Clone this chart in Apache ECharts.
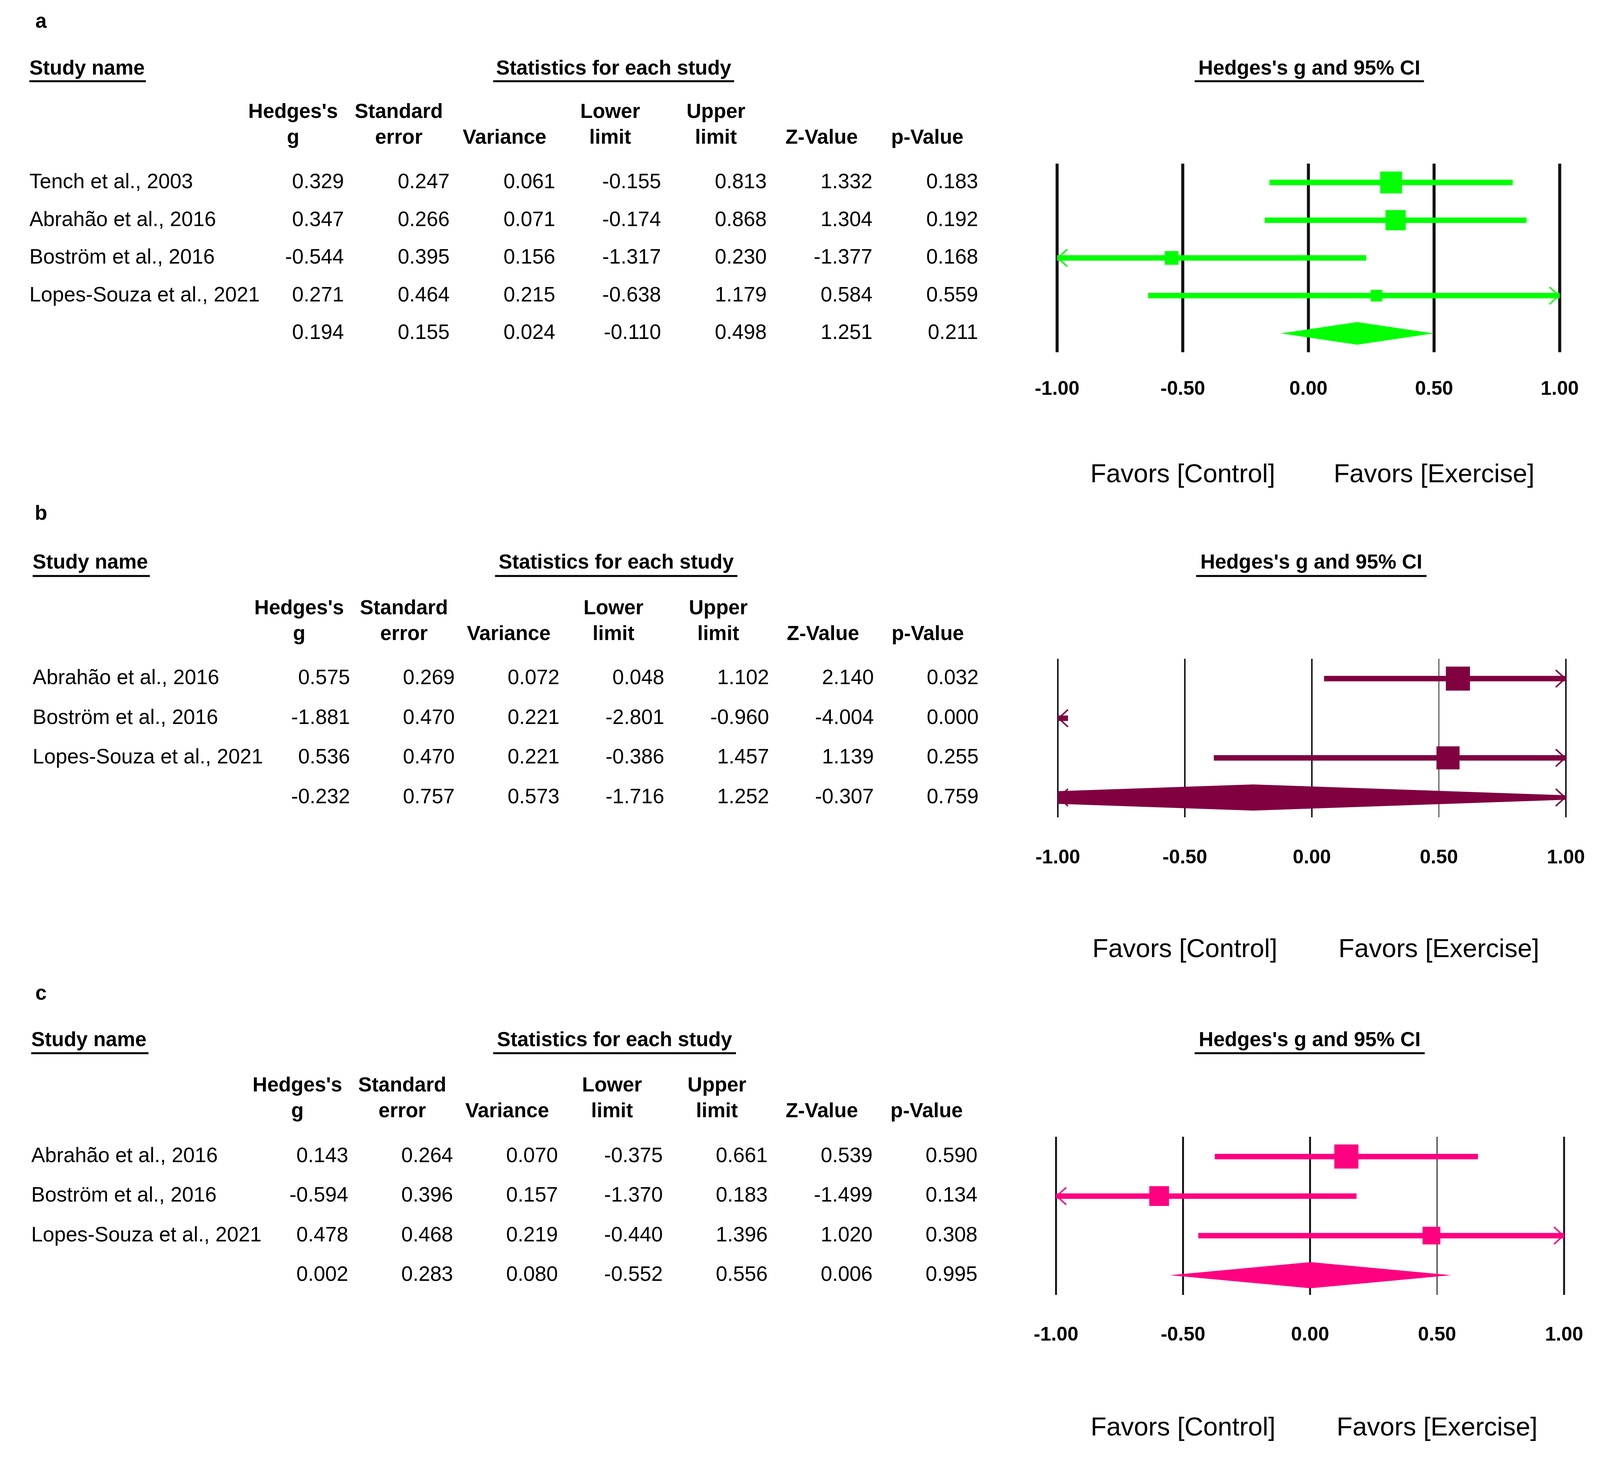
<!DOCTYPE html>
<html>
<head>
<meta charset="utf-8">
<script src="https://cdn.jsdelivr.net/npm/echarts@6/dist/echarts.min.js"></script>
<style>
  html, body { margin: 0; background: #fff; overflow: hidden; }
  #chart { width: 100vw; height: 100vh; }
</style>
</head>
<body>
<div id="chart"></div>
<script>
// column headers of the statistics table
const colTitles = ["Hedges's\ng", 'Standard\nerror', 'Variance', 'Lower\nlimit', 'Upper\nlimit', 'Z-Value', 'p-Value'];
const tickValues = [-1, -0.5, 0, 0.5, 1];
const tickLabels = ['-1.00', '-0.50', '0.00', '0.50', '1.00'];
const favorsLabels = ['Favors [Control]', 'Favors [Exercise]'];

// panel a (last row = pooled estimate)
const studiesA = ['Tench et al., 2003', 'Abrahão et al., 2016', 'Boström et al., 2016', 'Lopes-Souza et al., 2021', ''];
const hedgesA = [0.329, 0.347, -0.544, 0.271, 0.194];
const seA = [0.247, 0.266, 0.395, 0.464, 0.155];
const varA = [0.061, 0.071, 0.156, 0.215, 0.024];
const lowerA = [-0.155, -0.174, -1.317, -0.638, -0.110];
const upperA = [0.813, 0.868, 0.230, 1.179, 0.498];
const zA = [1.332, 1.304, -1.377, 0.584, 1.251];
const pA = [0.183, 0.192, 0.168, 0.559, 0.211];

// panel b
const studiesB = ['Abrahão et al., 2016', 'Boström et al., 2016', 'Lopes-Souza et al., 2021', ''];
const hedgesB = [0.575, -1.881, 0.536, -0.232];
const seB = [0.269, 0.470, 0.470, 0.757];
const varB = [0.072, 0.221, 0.221, 0.573];
const lowerB = [0.048, -2.801, -0.386, -1.716];
const upperB = [1.102, -0.960, 1.457, 1.252];
const zB = [2.140, -4.004, 1.139, -0.307];
const pB = [0.032, 0.000, 0.255, 0.759];

// panel c
const studiesC = ['Abrahão et al., 2016', 'Boström et al., 2016', 'Lopes-Souza et al., 2021', ''];
const hedgesC = [0.143, -0.594, 0.478, 0.002];
const seC = [0.264, 0.396, 0.468, 0.283];
const varC = [0.070, 0.157, 0.219, 0.080];
const lowerC = [-0.375, -1.370, -0.440, -0.552];
const upperC = [0.661, 0.183, 1.396, 0.556];
const zC = [0.539, -1.499, 1.020, 0.006];
const pC = [0.590, 0.134, 0.308, 0.995];

const FONT = '"Liberation Sans", Arial, sans-serif';

// layout is written for a 4409 x 3749 page and scaled to the real viewport
const sx = window.innerWidth / 4409;
const sy = window.innerHeight / 3749;
const X = v => v * sx, Y = v => v * sy, F = v => v * (sx + sy) / 2;

const panels = [
  { letter: 'a', color: '#00ff00', studies: studiesA,
    cols: [hedgesA, seA, varA, lowerA, upperA, zA, pA],
    lay: { letterY: 57, headY: 177, ulY: 208, studyUL: [81, 402], statUL: [1359, 2023], ciUL: [3292, 3924],
      top: 419, h: 483, tabL: 662, tabW: 2039, nameX: 81, headM: 32, fL: 2913, fR: 4298,
      tickM: 69, favM: 280, vw: [8, 8, 8, 8, 8], box: 58, dia: 58 } },
  { letter: 'b', color: '#800040', studies: studiesB,
    cols: [hedgesB, seB, varB, lowerB, upperB, zB, pB],
    lay: { letterY: 1317, headY: 1442, ulY: 1475, studyUL: [90, 413], statUL: [1364, 2032], ciUL: [3296, 3931],
      top: 1687, h: 406, tabL: 680, tabW: 2021, nameX: 90, headM: 29, fL: 2915, fR: 4315,
      tickM: 78, favM: 305, vw: [4, 4, 4, 2, 4], box: 64, dia: 67 } },
  { letter: 'c', color: '#ff0080', studies: studiesC,
    cols: [hedgesC, seC, varC, lowerC, upperC, zC, pC],
    lay: { letterY: 2546, headY: 2665, ulY: 2697, studyUL: [86, 409], statUL: [1359, 2028], ciUL: [3292, 3926],
      top: 2911, h: 405, tabL: 675, tabW: 2023, nameX: 86, headM: 31, fL: 2910, fR: 4310,
      tickM: 77, favM: 307, vw: [5, 5, 5, 2.5, 5], box: 64, dia: 67 } }
];

// between-study variance that reproduces the pooled variance (0 = fixed effect)
function tau2For(vars, pooled) {
  const fe = 1 / vars.reduce((s, v) => s + 1 / v, 0);
  if (fe >= pooled) return 0;
  let lo = 0, hi = 50;
  for (let it = 0; it < 80; it++) {
    const t = (lo + hi) / 2;
    const pv = 1 / vars.reduce((s, v) => s + 1 / (v + t), 0);
    if (pv < pooled) lo = t; else hi = t;
  }
  return (lo + hi) / 2;
}

// clip a polygon to xMin <= x <= xMax
function clipX(pts, xMin, xMax) {
  function cut(poly, inside, xb) {
    const out = [];
    for (let i = 0; i < poly.length; i++) {
      const a = poly[i], b = poly[(i + 1) % poly.length];
      const ia = inside(a[0]), ib = inside(b[0]);
      if (ia) out.push(a);
      if (ia !== ib) {
        const t = (xb - a[0]) / (b[0] - a[0]);
        out.push([xb, a[1] + t * (b[1] - a[1])]);
      }
    }
    return out;
  }
  let p = cut(pts, x => x >= xMin, xMin);
  p = cut(p, x => x <= xMax, xMax);
  return p;
}

function chevron(x, y, dir, color) {
  return {
    type: 'polyline',
    shape: { points: [[x + dir * X(28), y - Y(22)], [x + dir * X(2), y], [x + dir * X(28), y + Y(22)]] },
    style: { stroke: color, lineWidth: F(4), fill: null }
  };
}

const grid = [], xAxis = [], yAxis = [], series = [], graphic = [];

panels.forEach((p, k) => {
  const L = p.lay;
  const n = p.studies.length;
  const rows = p.studies.map((s, i) => String(i));
  const gT = 2 * k, gF = 2 * k + 1;
  const xT = 3 * k, xF = 3 * k + 1;
  const yT = 2 * k, yF = 2 * k + 1;

  grid.push({ left: X(L.tabL), top: Y(L.top), width: X(L.tabW), height: Y(L.h) });
  grid.push({ left: X(L.fL), top: Y(L.top), width: X(L.fR - L.fL), height: Y(L.h) });

  xAxis.push({
    gridIndex: gT, type: 'category', position: 'top', data: colTitles,
    axisLine: { show: false }, axisTick: { show: false }, splitLine: { show: false },
    axisLabel: { interval: 0, margin: Y(L.headM), fontFamily: FONT, fontWeight: 'bold', fontSize: F(54),
      lineHeight: Y(66), color: '#000' }
  });
  xAxis.push({
    gridIndex: gF, type: 'value', position: 'bottom', min: -1, max: 1, interval: 0.5,
    axisLine: { show: false }, axisTick: { show: false }, splitLine: { show: false },
    axisLabel: { margin: Y(L.tickM), fontFamily: FONT, fontWeight: 'bold', fontSize: F(52), lineHeight: Y(52),
      color: '#000',
      formatter: v => tickLabels[tickValues.findIndex(t => Math.abs(t - v) < 1e-9)] || '' }
  });
  // favours captions sit under the -0.5 and 0.5 ticks
  xAxis.push({
    gridIndex: gF, type: 'value', position: 'bottom', min: -1, max: 1, interval: 0.5,
    axisLine: { show: false }, axisTick: { show: false }, splitLine: { show: false },
    axisLabel: { margin: Y(L.favM), fontFamily: FONT, fontSize: F(69), lineHeight: Y(69), color: '#000',
      formatter: v => Math.abs(v + 0.5) < 1e-9 ? favorsLabels[0] : (Math.abs(v - 0.5) < 1e-9 ? favorsLabels[1] : '') }
  });

  yAxis.push({
    gridIndex: gT, type: 'category', inverse: true, data: p.studies,
    axisLine: { show: false }, axisTick: { show: false }, splitLine: { show: false },
    axisLabel: { interval: 0, align: 'left', margin: X(L.tabL - L.nameX), fontFamily: FONT, fontSize: F(55), color: '#000' }
  });
  yAxis.push({
    gridIndex: gF, type: 'category', inverse: true, data: rows, show: false
  });

  // table cells
  const cells = [];
  p.cols.forEach((arr, c) => arr.forEach((v, r) => cells.push([c, r, v.toFixed(3)])));
  series.push({
    type: 'custom', xAxisIndex: xT, yAxisIndex: yT, data: cells, silent: true,
    renderItem: (params, api) => {
      const pt = api.coord([api.value(0), api.value(1)]);
      return {
        type: 'text', x: pt[0] + X(140), y: pt[1],
        style: { text: cells[params.dataIndex][2], fill: '#000', fontFamily: FONT, fontSize: F(55),
          align: 'right', verticalAlign: 'middle' }
      };
    }
  });

  // reference lines of the forest plot
  series.push({
    type: 'custom', xAxisIndex: xF, yAxisIndex: yF, z: 1, silent: true,
    data: tickValues.map((v, j) => [v, j]),
    renderItem: (params, api) => {
      const cs = params.coordSys;
      const x = api.coord([api.value(0), 0])[0];
      return {
        type: 'line', shape: { x1: x, y1: cs.y, x2: x, y2: cs.y + cs.height },
        style: { stroke: '#111', lineWidth: F(L.vw[params.dataIndex]) }
      };
    }
  });

  // box sizes from the (random-effects) weights
  const studyVars = p.cols[2].slice(0, n - 1);
  const t2 = tau2For(studyVars, p.cols[2][n - 1]);
  const w = studyVars.map(v => 1 / (v + t2));
  const wMax = Math.max(...w);

  const est = p.cols[0], low = p.cols[3], up = p.cols[4];
  series.push({
    type: 'custom', xAxisIndex: xF, yAxisIndex: yF, z: 2, silent: true,
    data: est.map((g, i) => [g, low[i], up[i], i]),
    renderItem: (params, api) => {
      const i = params.dataIndex;
      const cs = params.coordSys;
      const xMin = cs.x, xMax = cs.x + cs.width;
      const y = api.coord([0, i])[1];
      const xg = api.coord([est[i], i])[0];
      const xl = api.coord([low[i], i])[0];
      const xh = api.coord([up[i], i])[0];
      const ch = [];
      if (i === n - 1) {
        const hh = Y(L.dia) / 2;
        const poly = clipX([[xl, y], [xg, y - hh], [xh, y], [xg, y + hh]], xMin, xMax);
        if (poly.length > 2) ch.push({ type: 'polygon', shape: { points: poly }, style: { fill: p.color } });
      } else {
        const a = Math.max(xl, xMin), b = Math.min(xh, xMax);
        const lw = Y(14);
        if (b > a) ch.push({ type: 'rect', shape: { x: a, y: y - lw / 2, width: b - a, height: lw }, style: { fill: p.color } });
        if (xg >= xMin && xg <= xMax) {
          const s = F(L.box) * Math.sqrt(w[i] / wMax);
          ch.push({ type: 'rect', shape: { x: xg - s / 2, y: y - s / 2, width: s, height: s }, style: { fill: p.color } });
        }
      }
      if (xl < xMin) ch.push(chevron(xMin, y, 1, p.color));
      if (xh > xMax) ch.push(chevron(xMax, y, -1, p.color));
      return { type: 'group', children: ch };
    }
  });

  // headings
  const bold = 'bold ' + F(54) + 'px ' + FONT;
  graphic.push({ type: 'text', x: X(113), y: Y(L.letterY),
    style: { text: p.letter, font: bold, fill: '#000', align: 'center', verticalAlign: 'middle' } });
  graphic.push({ type: 'text', x: X(L.nameX), y: Y(L.headY),
    style: { text: 'Study name', font: bold, fill: '#000', align: 'left', verticalAlign: 'middle' } });
  graphic.push({ type: 'text', x: X((L.statUL[0] + L.statUL[1]) / 2), y: Y(L.headY),
    style: { text: 'Statistics for each study', font: bold, fill: '#000', align: 'center', verticalAlign: 'middle' } });
  graphic.push({ type: 'text', x: X((L.ciUL[0] + L.ciUL[1]) / 2), y: Y(L.headY),
    style: { text: "Hedges's g and 95% CI", font: bold, fill: '#000', align: 'center', verticalAlign: 'middle' } });
  [L.studyUL, L.statUL, L.ciUL].forEach(u => {
    graphic.push({ type: 'line', shape: { x1: X(u[0]), y1: Y(L.ulY), x2: X(u[1]), y2: Y(L.ulY) },
      style: { stroke: '#000', lineWidth: F(5) } });
  });
});

const chart = echarts.init(document.getElementById('chart'));
chart.setOption({
  backgroundColor: '#ffffff',
  animation: false,
  grid, xAxis, yAxis, series, graphic
});
window.addEventListener('resize', () => chart.resize());
</script>
</body>
</html>
